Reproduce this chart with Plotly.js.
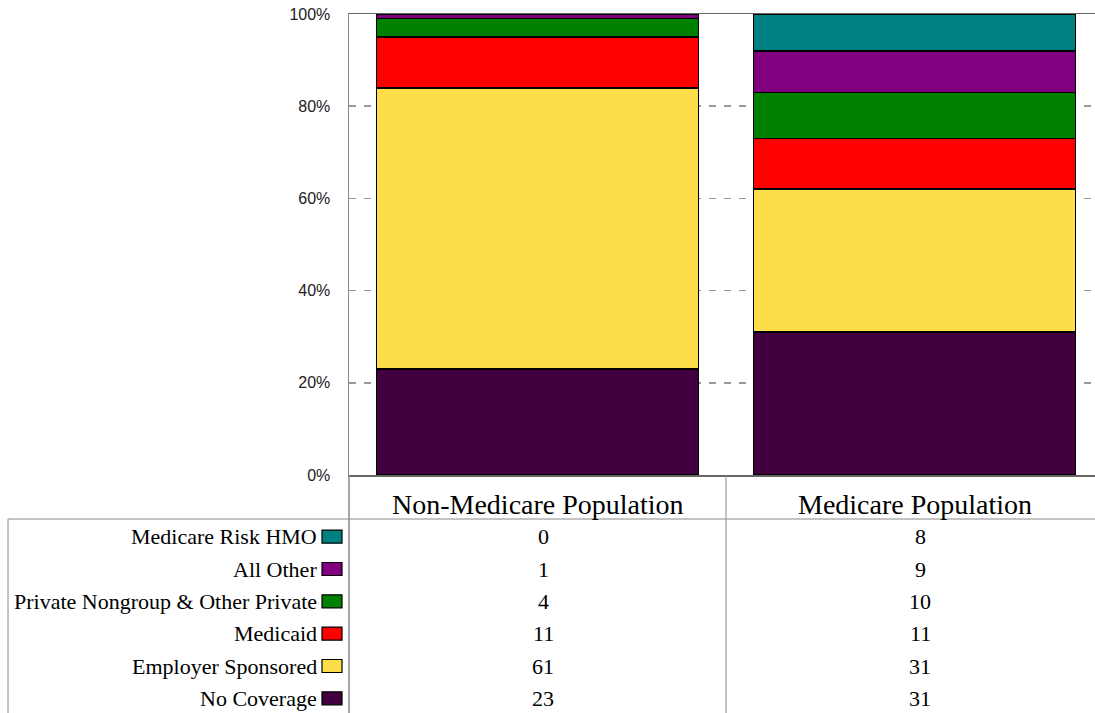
<!DOCTYPE html>
<html>
<head>
<meta charset="utf-8">
<script src="https://cdn.plot.ly/plotly-3.0.1.min.js"></script>
<style>html,body{margin:0;padding:0;background:#fff;}#chart{width:1095px;height:713px;}</style>
</head>
<body>
<div id="chart"></div>
<script>
// ---- data ----
const categories = ["Non-Medicare Population", "Medicare Population"];
const seriesNames = ["No Coverage", "Employer Sponsored", "Medicaid", "Private Nongroup & Other Private", "All Other", "Medicare Risk HMO"];
const noCoverage = [23, 31];
const employerSponsored = [61, 31];
const medicaid = [11, 11];
const privateNongroup = [4, 10];
const allOther = [1, 9];
const medicareRiskHMO = [0, 8];
const seriesColors = ["#420040", "#FDDD4A", "#FF0000", "#008000", "#800080", "#008080"];
const yTickVals = [0, 20, 40, 60, 80, 100];
const yTickText = ["0%", "20%", "40%", "60%", "80%", "100%"];

const seriesValues = [noCoverage, employerSponsored, medicaid, privateNongroup, allOther, medicareRiskHMO];

const SERIF = "Liberation Serif";
const SANS = "Liberation Sans";

// ---- layout geometry (pixels) ----
const W = 1095, H = 713;
const px = x => x / W;
const py = y => 1 - y / H;
const plotL = 349, plotR = 1095, plotT = 14, plotB = 475;
const colW = 377; // one category column
const headerB = 519, tableL = 8, rowH = (H - headerB) / 6;

const traces = seriesNames.map((name, i) => ({
  type: "bar",
  name: name,
  x: [0, 1],
  y: seriesValues[i],
  width: 0.854,
  marker: {color: seriesColors[i], line: {color: "#000", width: 1.5}},
  hoverinfo: "skip"
}));

const shapes = [
  {type: "line", xref: "paper", yref: "paper", x0: px(plotL), x1: px(plotL), y0: py(plotB), y1: 0, line: {color: "#888", width: 1.5}},
  {type: "line", xref: "paper", yref: "paper", x0: px(plotL + colW), x1: px(plotL + colW), y0: py(plotB), y1: 0, line: {color: "#888", width: 1}},
  {type: "line", xref: "paper", yref: "paper", x0: px(tableL), x1: 1, y0: py(headerB), y1: py(headerB), line: {color: "#888", width: 1}},
  {type: "line", xref: "paper", yref: "paper", x0: px(tableL), x1: px(tableL), y0: py(headerB), y1: 0, line: {color: "#888", width: 1}}
];

const annotations = [];
categories.forEach((c, j) => {
  annotations.push({xref: "paper", yref: "paper", x: px(plotL + colW * (j + 0.5)), y: py((plotB + headerB) / 2 + 7),
    text: c, showarrow: false, xanchor: "center", yanchor: "middle",
    font: {family: SERIF, size: 28, color: "#000"}});
});
for (let r = 0; r < seriesNames.length; r++) {
  const si = seriesNames.length - 1 - r;
  const yc = headerB + rowH * (r + 0.5) + 1.5;
  annotations.push({xref: "paper", yref: "paper", x: px(319), y: py(yc), text: seriesNames[si], showarrow: false,
    xanchor: "right", yanchor: "middle", font: {family: SERIF, size: 22, color: "#000"}});
  shapes.push({type: "rect", xref: "paper", yref: "paper", x0: px(322), x1: px(342), y0: py(yc - 6.5), y1: py(yc + 6.5),
    fillcolor: seriesColors[si], line: {color: "#000", width: 1.2}});
  categories.forEach((c, j) => {
    annotations.push({xref: "paper", yref: "paper", x: px(plotL + colW * (j + 0.5) + 5.5), y: py(yc), text: String(seriesValues[si][j]),
      showarrow: false, xanchor: "center", yanchor: "middle",
      font: {family: SERIF, size: 22, color: "#000"}});
  });
}

const layout = {
  width: W, height: H,
  margin: {l: 0, r: 0, t: 0, b: 0},
  paper_bgcolor: "#fff", plot_bgcolor: "#fff",
  font: {family: SANS},
  barmode: "stack",
  showlegend: false,
  xaxis: {
    domain: [px(plotL), 1],
    range: [-0.5, 1.5 - (plotL + 2 * colW - plotR) / colW],
    showticklabels: false, ticks: "", showgrid: false, zeroline: false,
    showline: true, linecolor: "#666", linewidth: 1.5, mirror: true, fixedrange: true
  },
  yaxis: {
    domain: [py(plotB), py(plotT)],
    range: [0, 100],
    tickvals: yTickVals, ticktext: yTickText,
    tickfont: {family: SANS, size: 16, color: "#222"},
    ticks: "", ticklen: 0, ticklabelstandoff: 14,
    showgrid: true, gridcolor: "#999", griddash: "7px,8px", gridwidth: 1.5,
    zeroline: false, showline: true, linecolor: "#888", linewidth: 1.5, fixedrange: true
  },
  shapes: shapes,
  annotations: annotations
};

Plotly.newPlot("chart", traces, layout, {staticPlot: true, displayModeBar: false});
</script>
</body>
</html>
